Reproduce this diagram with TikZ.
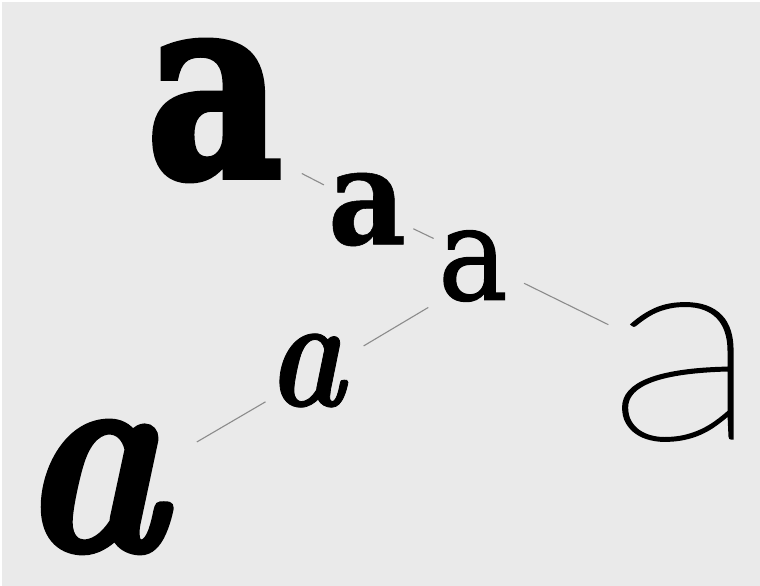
\documentclass[tikz,border=0pt]{standalone}
\usepackage{fontspec}
\usetikzlibrary{calc}

\definecolor{paper}{RGB}{234,234,234}
\definecolor{wire}{RGB}{140,140,140}

\newfontfamily\heavyslab[FakeStretch=0.82,FakeBold=2.5]{DejaVu Serif Bold}
\newfontfamily\boldslab[FakeStretch=0.9,FakeBold=0.4]{DejaVu Serif Bold}
\newfontfamily\bookslab[FakeStretch=0.9,FakeBold=1]{DejaVu Serif}
\newfontfamily\hairsans[FakeStretch=1.2,FakeBold=0.8]{Lato Hairline}
\newfontfamily\heavyital[FakeStretch=0.86,FakeBold=2]{lmroman10-bolditalic.otf}
\newfontfamily\boldital[FakeStretch=0.82,FakeBold=0.5]{lmroman10-bolditalic.otf}

\newcommand{\glyphsize}[1]{\fontsize{#1}{#1}\selectfont}

\tikzset{
  glyph/.style = {inner sep = 0pt, outer sep = 0pt, text = black},
  link/.style = {draw = wire, line width = 1.1pt}
}

\begin{document}
\begin{tikzpicture}[x = 1pt, y = -1pt]

% paper
\fill[white] (0,0) rectangle (760,586);
\fill[paper] (2,2) rectangle (760,586);
\useasboundingbox (0,0) rectangle (760,586);

% the letters
\node[glyph] (heavy) at (214.5,110.5) {\heavyslab\glyphsize{255}a};
\node[glyph] (bold)  at (367,209.5)   {\boldslab\glyphsize{134}a};
\node[glyph] (book)  at (473,266)     {\bookslab\glyphsize{130}a};
\node[glyph] (hair)  at (683.7,372)   {\hairsans\glyphsize{272}a};
\node[glyph] (ital)  at (306,370.5)   {\boldital\glyphsize{160}a};
\node[glyph] (black) at (92.5,487)    {\heavyital\glyphsize{285}a};

% weight axis
\draw[link, shorten < = 22pt, shorten > = 4.5pt] (heavy.-38.8) -- (bold.150.2);
\draw[link, shorten < = 8pt, shorten > = 5pt]    (bold.-22.4)  -- (book.144.7);
\draw[link, shorten < = 18pt, shorten > = -2pt]  (book.-15.3)  -- (hair.148.3);

% slant axis
\draw[link, shorten < = 11.5pt, shorten > = 22pt] (book.south west) -- (ital.19.3);
\draw[link, shorten < = 2pt, shorten > = 37pt]    (ital.218.7)      -- (black.20.3);

\end{tikzpicture}
\end{document}
